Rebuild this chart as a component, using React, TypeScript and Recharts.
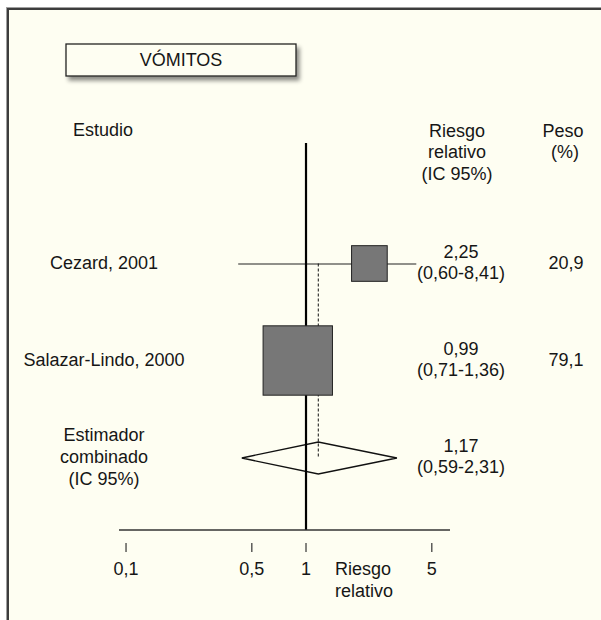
import React from 'react';
import { ComposedChart, XAxis, YAxis, Scatter, Bar, ReferenceLine } from 'recharts';

const FONT = '"Liberation Sans", Arial, Helvetica, sans-serif';
const CREAM = '#FEFEF2';
const INK = '#161616';

// ---- data ----
const studies = ['Cezard, 2001', 'Salazar-Lindo, 2000', 'Estimador\ncombinado\n(IC 95%)'];
const estimates = [2.25, 0.9, 1.17];
const lowerCI = [0.42, 0.71, 0.44];
const upperCI = [4.1, 1.36, 3.2];
const weights: (number | null)[] = [20.9, 79.1, null];
const pooledFlags = [false, false, true];
const rrPoint = ['2,25', '0,99', '1,17'];
const rrInterval = ['(0,60-8,41)', '(0,71-1,36)', '(0,59-2,31)'];
const weightText = ['20,9', '79,1', ''];
const xTicks = [0.1, 0.5, 1, 5];
const xDomain = [0.0914, 6.31];
const nullEffect = 1;

const rows = studies.map((study, i) => ({
  study,
  est: estimates[i],
  ci: [lowerCI[i], upperCI[i]],
  weight: weights[i],
  pooled: pooledFlags[i],
  rr: rrPoint[i],
  rrCI: rrInterval[i],
  peso: weightText[i],
}));

const pooledRow = rows.find((r) => r.pooled)!;
const firstRow = rows[0];

const fmt = (v: number) => String(v).replace('.', ',');

function BoxShape(props: any) {
  const { cx, cy, payload } = props;
  if (!payload || payload.weight == null || !Number.isFinite(cx) || !Number.isFinite(cy)) return null;
  const side = 7.8 * Math.sqrt(payload.weight);
  return (
    <rect x={cx - side / 2} y={cy - side / 2} width={side} height={side} fill="#777777" stroke="#222" strokeWidth={1} />
  );
}

function IntervalShape(props: any) {
  const { x, y, width, height, payload } = props;
  if (![x, y, width, height].every((v) => Number.isFinite(v)) || !payload) return null;
  const cy = y + height / 2;
  if (payload.pooled) {
    const [lo, hi] = payload.ci;
    const frac = (Math.log(payload.est) - Math.log(lo)) / (Math.log(hi) - Math.log(lo));
    const ex = x + width * frac;
    return (
      <polygon
        points={`${x},${cy} ${ex},${y} ${x + width},${cy} ${ex},${y + height}`}
        fill="none"
        stroke="#111"
        strokeWidth={1.3}
      />
    );
  }
  return <line x1={x} y1={cy} x2={x + width} y2={cy} stroke="#222" strokeWidth={1.2} />;
}

function RowTick(props: any) {
  const { y, payload } = props;
  const r = rows.find((row) => row.study === payload.value);
  if (!r) return null;
  const lines = r.study.split('\n');
  const c = y - 1;
  const lh = 22;
  const start = c - ((lines.length - 1) * lh) / 2;
  const common = { fontFamily: FONT, fontSize: 18, fill: INK } as any;
  return (
    <g>
      <text {...common} textAnchor="middle">
        {lines.map((l, i) => (
          <tspan key={i} x={104} y={start + i * lh} dy="0.35em">
            {l}
          </tspan>
        ))}
      </text>
      <text {...common} textAnchor="middle">
        <tspan x={461} y={c - 10.5} dy="0.35em">{r.rr}</tspan>
        <tspan x={461} y={c + 10.5} dy="0.35em">{r.rrCI}</tspan>
      </text>
      {r.peso ? (
        <text {...common} textAnchor="middle" x={566} y={c} dy="0.35em">
          {r.peso}
        </text>
      ) : null}
    </g>
  );
}

function XTick(props: any) {
  const { x, y, payload } = props;
  return (
    <g>
      <line x1={x} x2={x} y1={y + 13} y2={y + 22} stroke="#333" strokeWidth={1.2} />
      <text x={x} y={y + 39} dy="0.35em" textAnchor="middle" fontFamily={FONT} fontSize={18} fill={INK}>
        {fmt(payload.value)}
      </text>
    </g>
  );
}

export default function App() {
  const t = { fontFamily: FONT, fontSize: 18, fill: INK } as any;
  return (
    <div style={{ position: 'absolute', left: 0, top: 0, width: 601, height: 620, background: '#fff', overflow: 'hidden' }}>
      <div
        style={{
          position: 'absolute',
          left: 7,
          top: 8,
          width: 620,
          height: 640,
          background: CREAM,
          borderLeft: '2px solid #3c3c3c',
          borderTop: '2px solid #3c3c3c',
          boxShadow: '-1px -1px 0 #a0a0a0',
        }}
      />
      <svg width={601} height={620} style={{ position: 'absolute', left: 0, top: 0 }}>
        <defs>
          <filter id="sh" x="-10%" y="-30%" width="130%" height="190%">
            <feDropShadow dx="3" dy="4" stdDeviation="2.2" floodColor="#000" floodOpacity="0.45" />
          </filter>
        </defs>
        <rect x={66} y={44} width={230} height={32} fill={CREAM} stroke="#222" strokeWidth={1.3} filter="url(#sh)" />
        <text {...t} x={181} y={60} dy="0.35em" textAnchor="middle">VÓMITOS</text>
        <text {...t} x={103} y={130} dy="0.35em" textAnchor="middle">Estudio</text>
        <text {...t} textAnchor="middle">
          <tspan x={457} y={131} dy="0.35em">Riesgo</tspan>
          <tspan x={457} y={152} dy="0.35em">relativo</tspan>
          <tspan x={457} y={174} dy="0.35em">(IC 95%)</tspan>
        </text>
        <text {...t} textAnchor="middle">
          <tspan x={563} y={131} dy="0.35em">Peso</tspan>
          <tspan x={565} y={152} dy="0.35em">(%)</tspan>
        </text>
        <text {...t} textAnchor="start">
          <tspan x={335} y={569} dy="0.35em">Riesgo</tspan>
          <tspan x={335} y={591} dy="0.35em">relativo</tspan>
        </text>
      </svg>
      <div style={{ position: 'absolute', left: 0, top: 0 }}>
        <ComposedChart
          layout="vertical"
          width={601}
          height={620}
          data={rows}
          margin={{ top: 143, right: 151, bottom: 0, left: 0 }}
        >
          <XAxis
            type="number"
            scale="log"
            domain={xDomain}
            allowDataOverflow
            ticks={xTicks}
            interval={0}
            height={90}
            tickSize={0}
            tickMargin={0}
            axisLine={{ stroke: '#333', strokeWidth: 1.3 }}
            tickLine={false}
            tick={<XTick />}
          />
          <YAxis
            type="category"
            dataKey="study"
            width={119}
            axisLine={false}
            tickLine={false}
            interval={0}
            padding={{ top: 72, bottom: 24 }}
            tick={<RowTick />}
          />
          <ReferenceLine x={nullEffect} stroke="#000" strokeWidth={2.2} />
          <ReferenceLine
            segment={[
              { x: pooledRow.est, y: firstRow.study },
              { x: pooledRow.est, y: pooledRow.study },
            ]}
            stroke="#111"
            strokeWidth={1}
            strokeDasharray="3 2"
          />
          <Bar dataKey="ci" barSize={32} shape={<IntervalShape />} isAnimationActive={false} />
          <Scatter dataKey="est" shape={<BoxShape />} isAnimationActive={false} />
        </ComposedChart>
      </div>
    </div>
  );
}
